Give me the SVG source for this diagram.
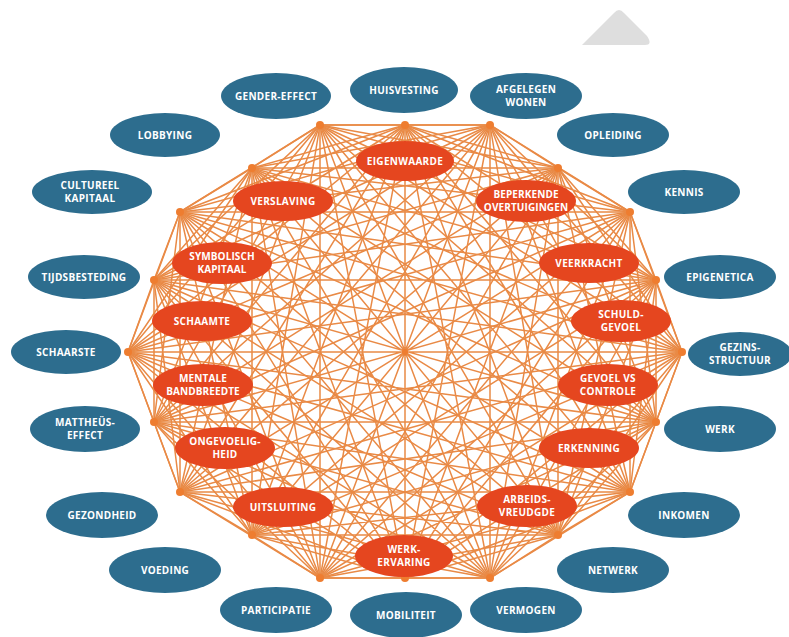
<svg xmlns="http://www.w3.org/2000/svg" width="789" height="637" viewBox="0 0 789 637">
<style>
.b{fill:#2D6D8E}
.r{fill:#E5461F}
.t{fill:#fff;font-family:"Open Sans","DejaVu Sans",sans-serif;font-weight:700;font-size:10px;text-anchor:middle;letter-spacing:0.3px}
.s{letter-spacing:0.1px}
.e{fill:none;stroke:#E98A46;stroke-width:1.5;stroke-linejoin:round}
.h{fill:#EE7D30}
</style>
<rect width="789" height="637" fill="#fff"/>
<path d="M582 45L614 13Q619 7 624 13L647 36Q653 45 645 45Z" fill="#DEDEDE"/>
<g id="connectors" class="e">
<path d="M320 125L405 125L490 125L558 168L630 212L656 280L682 352L656 422L630 492L558 535L490 578L405 578L320 578L252 535L180 492L154 422L128 352L154 280L180 212L252 168Z"/>
<path d="M320 125L558 168L682 352L558 535L320 578L154 422L180 212L405 125L630 212L656 422L490 578L252 535L128 352L252 168L490 125L656 280L630 492L405 578L180 492L154 280Z"/>
<path d="M320 125L656 422L180 492L405 125L630 492L154 422L490 125L558 535L128 352L558 168L490 578L154 280L630 212L405 578L180 212L656 280L320 578L252 168L682 352L252 535Z"/>
<path d="M320 125L558 535L180 212L656 422L128 352L656 280L180 492L558 168L320 578L405 125L490 578L252 168L630 492L154 280L682 352L154 422L630 212L252 535L490 125L405 578Z"/>
<path d="M320 125L490 125L630 212L682 352L630 492L490 578L320 578L180 492L128 352L180 212Z"/>
<path d="M405 125L558 168L656 280L656 422L558 535L405 578L252 535L154 422L154 280L252 168Z"/>
<path d="M320 125L682 352L320 578L180 212L630 212L490 578L128 352L490 125L630 492L180 492Z"/>
<path d="M405 125L656 422L252 535L252 168L656 280L405 578L154 280L558 168L558 535L154 422Z"/>
<path d="M320 125L630 212L630 492L320 578L128 352Z M405 125L656 280L558 535L252 535L154 280Z M490 125L682 352L490 578L180 492L180 212Z M558 168L656 422L405 578L154 422L252 168Z"/>
<path d="M320 125L630 492L128 352L630 212L320 578Z M405 125L558 535L154 280L656 280L252 535Z M490 125L490 578L180 212L682 352L180 492Z M558 168L405 578L252 168L656 422L154 422Z"/>
<path d="M320 125L656 280L490 578L154 422Z M405 125L682 352L405 578L128 352Z M490 125L656 422L320 578L154 280Z M558 168L630 492L252 535L180 212Z M630 212L558 535L180 492L252 168Z"/>
<path d="M320 125L490 578M405 125L405 578M490 125L320 578M558 168L252 535M630 212L180 492M656 280L154 422M682 352L128 352M656 422L154 280M630 492L180 212M558 535L252 168"/>
</g>
<g id="hubs" class="h">
<circle cx="320" cy="125" r="4"/><circle cx="405" cy="125" r="4"/><circle cx="490" cy="125" r="4"/><circle cx="558" cy="168" r="4"/><circle cx="630" cy="212" r="4"/><circle cx="656" cy="280" r="4"/><circle cx="682" cy="352" r="4"/><circle cx="656" cy="422" r="4"/><circle cx="630" cy="492" r="4"/><circle cx="558" cy="535" r="4"/><circle cx="490" cy="578" r="4"/><circle cx="405" cy="578" r="4"/><circle cx="320" cy="578" r="4"/><circle cx="252" cy="535" r="4"/><circle cx="180" cy="492" r="4"/><circle cx="154" cy="422" r="4"/><circle cx="128" cy="352" r="4"/><circle cx="154" cy="280" r="4"/><circle cx="180" cy="212" r="4"/><circle cx="252" cy="168" r="4"/><circle cx="405" cy="352" r="3"/>
</g>
<g id="eigenwaarde"><ellipse class="r" cx="405" cy="161" rx="49" ry="20"/><text class="t" x="405" y="164.5">EIGENWAARDE</text></g>
<g id="beperkende-overtuigingen"><ellipse class="r" cx="526" cy="201" rx="50" ry="21"/><text class="t s" x="526" y="197.6">BEPERKENDE</text><text class="t s" x="526" y="211.2">OVERTUIGINGEN</text></g>
<g id="veerkracht"><ellipse class="r" cx="589" cy="263" rx="50" ry="20"/><text class="t" x="589" y="266.5">VEERKRACHT</text></g>
<g id="schuldgevoel"><ellipse class="r" cx="621" cy="321" rx="50" ry="21"/><text class="t" x="621" y="317.6">SCHULD-</text><text class="t" x="621" y="331.2">GEVOEL</text></g>
<g id="gevoel-vs-controle"><ellipse class="r" cx="608" cy="385" rx="50" ry="21"/><text class="t" x="608" y="381.6">GEVOEL VS</text><text class="t" x="608" y="395.2">CONTROLE</text></g>
<g id="erkenning"><ellipse class="r" cx="589" cy="448" rx="50" ry="20"/><text class="t" x="589" y="451.5">ERKENNING</text></g>
<g id="arbeidsvreugde"><ellipse class="r" cx="527" cy="506" rx="50" ry="21"/><text class="t" x="527" y="502.6">ARBEIDS-</text><text class="t" x="527" y="516.2">VREUDGDE</text></g>
<g id="werkervaring"><ellipse class="r" cx="404" cy="556" rx="49" ry="21"/><text class="t" x="404" y="552.6">WERK-</text><text class="t" x="404" y="566.2">ERVARING</text></g>
<g id="uitsluiting"><ellipse class="r" cx="283" cy="507" rx="50" ry="20"/><text class="t" x="283" y="510.5">UITSLUITING</text></g>
<g id="ongevoeligheid"><ellipse class="r" cx="225" cy="448" rx="50" ry="21"/><text class="t" x="225" y="444.6">ONGEVOELIG-</text><text class="t" x="225" y="458.2">HEID</text></g>
<g id="mentale-bandbreedte"><ellipse class="r" cx="203" cy="385" rx="50" ry="21"/><text class="t s" x="203" y="381.6">MENTALE</text><text class="t s" x="203" y="395.2">BANDBREEDTE</text></g>
<g id="schaamte"><ellipse class="r" cx="202" cy="321" rx="50" ry="20"/><text class="t" x="202" y="324.5">SCHAAMTE</text></g>
<g id="symbolisch-kapitaal"><ellipse class="r" cx="222" cy="263" rx="50" ry="21"/><text class="t s" x="222" y="259.6">SYMBOLISCH</text><text class="t s" x="222" y="273.2">KAPITAAL</text></g>
<g id="verslaving"><ellipse class="r" cx="283" cy="201" rx="50" ry="20"/><text class="t" x="283" y="204.5">VERSLAVING</text></g>
<g id="gender-effect"><ellipse class="b" cx="276" cy="96" rx="55" ry="23"/><text class="t" x="276" y="99.5">GENDER-EFFECT</text></g>
<g id="huisvesting"><ellipse class="b" cx="404" cy="90" rx="54" ry="23"/><text class="t" x="404" y="93.5">HUISVESTING</text></g>
<g id="afgelegen-wonen"><ellipse class="b" cx="526" cy="96" rx="56" ry="23"/><text class="t" x="526" y="92.7">AFGELEGEN</text><text class="t" x="526" y="106.4">WONEN</text></g>
<g id="opleiding"><ellipse class="b" cx="613" cy="135" rx="56" ry="22"/><text class="t" x="613" y="138.5">OPLEIDING</text></g>
<g id="kennis"><ellipse class="b" cx="684" cy="192" rx="56" ry="22"/><text class="t" x="684" y="195.5">KENNIS</text></g>
<g id="epigenetica"><ellipse class="b" cx="720" cy="277" rx="56" ry="22"/><text class="t" x="720" y="280.5">EPIGENETICA</text></g>
<g id="gezinsstructuur"><ellipse class="b" cx="740" cy="354" rx="52" ry="22"/><text class="t" x="740" y="350.7">GEZINS-</text><text class="t" x="740" y="364.4">STRUCTUUR</text></g>
<g id="werk"><ellipse class="b" cx="720" cy="429" rx="56" ry="23"/><text class="t" x="720" y="432.5">WERK</text></g>
<g id="inkomen"><ellipse class="b" cx="684" cy="515" rx="56" ry="23"/><text class="t" x="684" y="518.5">INKOMEN</text></g>
<g id="netwerk"><ellipse class="b" cx="613" cy="570" rx="56" ry="23"/><text class="t" x="613" y="573.5">NETWERK</text></g>
<g id="vermogen"><ellipse class="b" cx="526" cy="610" rx="56" ry="23"/><text class="t" x="526" y="613.5">VERMOGEN</text></g>
<g id="mobiliteit"><ellipse class="b" cx="406" cy="615" rx="56" ry="23"/><text class="t" x="406" y="618.5">MOBILITEIT</text></g>
<g id="participatie"><ellipse class="b" cx="276" cy="610" rx="56" ry="23"/><text class="t" x="276" y="613.5">PARTICIPATIE</text></g>
<g id="voeding"><ellipse class="b" cx="165" cy="570" rx="56" ry="23"/><text class="t" x="165" y="573.5">VOEDING</text></g>
<g id="gezondheid"><ellipse class="b" cx="102" cy="515" rx="56" ry="23"/><text class="t" x="102" y="518.5">GEZONDHEID</text></g>
<g id="mattheus-effect"><ellipse class="b" cx="85" cy="429" rx="55" ry="23"/><text class="t" x="85" y="425.7">MATTHEÜS-</text><text class="t" x="85" y="439.4">EFFECT</text></g>
<g id="schaarste"><ellipse class="b" cx="66" cy="352" rx="55" ry="22"/><text class="t" x="66" y="355.5">SCHAARSTE</text></g>
<g id="tijdsbesteding"><ellipse class="b" cx="84" cy="277" rx="56" ry="22"/><text class="t" x="84" y="280.5">TIJDSBESTEDING</text></g>
<g id="cultureel-kapitaal"><ellipse class="b" cx="92" cy="192" rx="60" ry="22"/><text class="t" x="90" y="188.7">CULTUREEL</text><text class="t" x="90" y="202.4">KAPITAAL</text></g>
<g id="lobbying"><ellipse class="b" cx="165" cy="135" rx="55" ry="22"/><text class="t" x="165" y="138.5">LOBBYING</text></g>
</svg>
